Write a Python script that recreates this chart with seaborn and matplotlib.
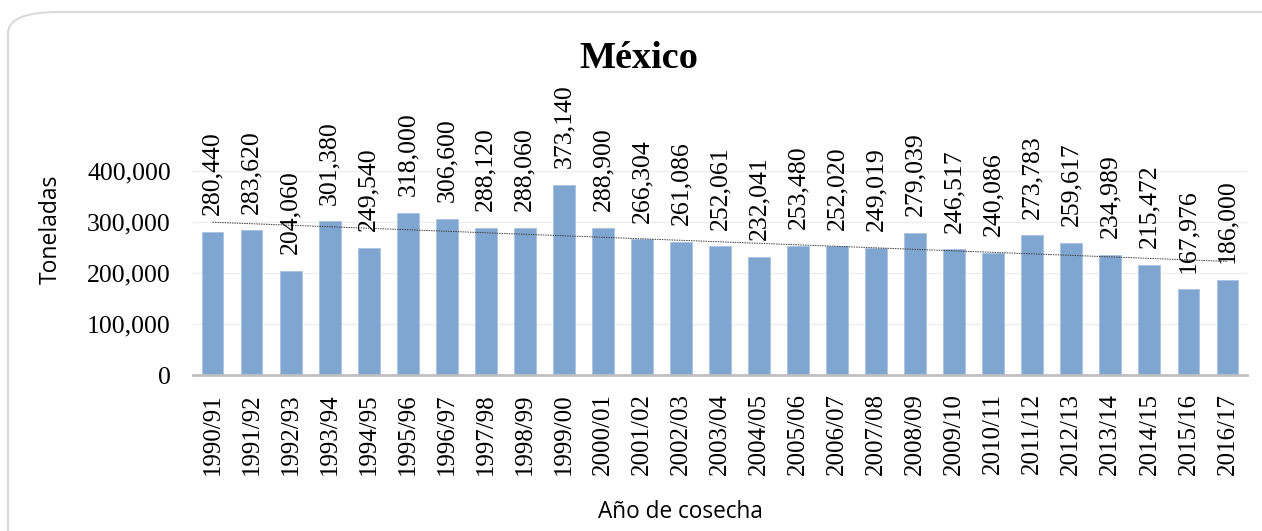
import numpy as np
import pandas as pd
import matplotlib
matplotlib.use('Agg')
import matplotlib.pyplot as plt
from matplotlib.patches import FancyBboxPatch
import seaborn as sns

# harvest years and production (tonnes)
cosechas = ['1990/91', '1991/92', '1992/93', '1993/94', '1994/95', '1995/96',
            '1996/97', '1997/98', '1998/99', '1999/00', '2000/01', '2001/02',
            '2002/03', '2003/04', '2004/05', '2005/06', '2006/07', '2007/08',
            '2008/09', '2009/10', '2010/11', '2011/12', '2012/13', '2013/14',
            '2014/15', '2015/16', '2016/17']
toneladas = [280440, 283620, 204060, 301380, 249540, 318000, 306600, 288120,
             288060, 373140, 288900, 266304, 261086, 252061, 232041, 253480,
             252020, 249019, 279039, 246517, 240086, 273783, 259617, 234989,
             215472, 167976, 186000]
yticks = [0, 100000, 200000, 300000, 400000]

df = pd.DataFrame({'cosecha': cosechas, 'toneladas': toneladas})

sns.set_style('white')
plt.rcParams['text.color'] = 'black'
plt.rcParams['axes.labelcolor'] = 'black'
plt.rcParams['xtick.color'] = 'black'
plt.rcParams['ytick.color'] = 'black'
serif = ['Liberation Serif', 'DejaVu Serif']
sans = ['Open Sans', 'DejaVu Sans']

fig = plt.figure(figsize=(12.62, 5.31), dpi=100)
ax = fig.add_axes([193/1262, 1-375/531, 1054/1262, 204/531])

sns.barplot(data=df, x='cosecha', y='toneladas', color='#7fa6d0',
            saturation=1, width=0.56, edgecolor='#a9c2e0', linewidth=0.6, ax=ax)

# linear trend line
idx = np.arange(len(toneladas))
m, b = np.polyfit(idx, toneladas, 1)
ax.plot(idx, m*idx + b, color='#404040', lw=0.7, ls=(0, (1.5, 1)), zorder=3)

# value labels
ax.bar_label(ax.containers[0], labels=[f'{v:,}' for v in toneladas],
             rotation=90, padding=12, fontsize=18.5, family=serif,
             color='black', clip_on=False)

ax.set_ylim(0, 400000)
ax.set_xlim(-0.5, len(cosechas) - 0.5)
ax.set_yticks(yticks)
ax.set_yticklabels([f'{v:,}' for v in yticks], family=serif, fontsize=18.5)
ax.set_xticks(idx)
ax.set_xticklabels(cosechas, rotation=90, family=serif, fontsize=18)
ax.tick_params(axis='y', length=0, pad=16)
ax.tick_params(axis='x', length=0, pad=13)
ax.grid(axis='y', color='#ededed', lw=1)
ax.set_axisbelow(True)
for s in ['left', 'right', 'top']:
    ax.spines[s].set_visible(False)
ax.spines['bottom'].set_color('#bfbfbf')
ax.spines['bottom'].set_linewidth(2)

ax.set_xlabel('Año de cosecha', family=sans, fontsize=16.3)
ax.xaxis.set_label_coords((680-193)/1054, (375-500)/204)
ax.set_ylabel('Toneladas', family=sans, fontsize=16.5)
ax.yaxis.set_label_coords((63-193)/1054, (375-229)/204)

fig.text(639/1262, 1-68/531, 'México', family=serif, fontsize=27.5,
         fontweight='bold', ha='center', va='baseline')

border = FancyBboxPatch((8/1262, -0.1), 1.1, 1-12/531+0.1,
                        boxstyle='round,pad=0,rounding_size=0.04',
                        transform=fig.transFigure, fill=False,
                        edgecolor='#d9d9d9', lw=1.5, clip_on=False)
fig.patches.append(border)

fig.savefig('out.png', dpi=100)
